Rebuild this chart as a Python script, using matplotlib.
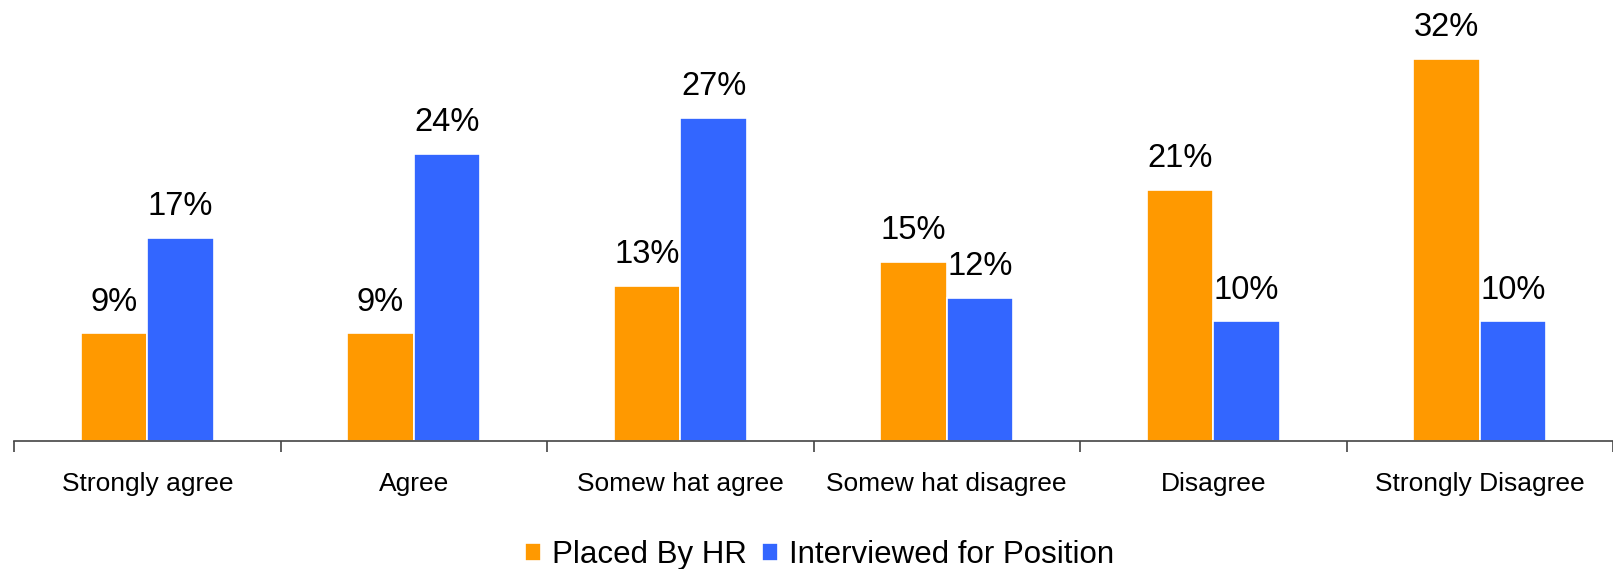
import numpy as np
import matplotlib
matplotlib.use('Agg')
import matplotlib.pyplot as plt

plt.rcParams['font.family'] = ['Liberation Sans', 'DejaVu Sans']

# 데이터
categories = ['Strongly agree', 'Agree', 'Somew hat agree', 'Somew hat disagree',
              'Disagree', 'Strongly Disagree']
placed_hr = [9, 9, 13, 15, 21, 32]
interviewed = [17, 24, 27, 12, 10, 10]
series_names = ['Placed By HR', 'Interviewed for Position']
colors = ['#FF9900', '#3366FF']

fig = plt.figure(figsize=(16.13, 5.69), dpi=100)
ax = fig.add_axes([14 / 1613, 128 / 569, 1 - 14 / 1613, 1 - 128 / 569])

x = np.arange(len(categories))
w = 0.25

b1 = ax.bar(x - w / 2, placed_hr, w, color=colors[0], edgecolor='white', linewidth=1.2,
            label=series_names[0])
b2 = ax.bar(x + w / 2, interviewed, w, color=colors[1], edgecolor='white', linewidth=1.2,
            label=series_names[1])

# 막대 위 값 표시
for bars, vals in [(b1, placed_hr), (b2, interviewed)]:
    for rect, v in zip(bars, vals):
        ax.annotate(f'{v}%', (rect.get_x() + rect.get_width() / 2, rect.get_height()),
                    xytext=(0, 16.5), textcoords='offset points',
                    ha='center', va='baseline', fontsize=23.5)

ax.set_xlim(-0.5, len(categories) - 0.5)
ax.set_ylim(0, 36.9)

for s in ['top', 'right', 'left']:
    ax.spines[s].set_visible(False)
ax.spines['bottom'].set_color('#444444')
ax.spines['bottom'].set_linewidth(1.2)
ax.set_yticks([])

# 그룹 경계에 눈금, 가운데에 라벨
ax.set_xticks(np.arange(len(categories) + 1) - 0.5)
ax.set_xticklabels([])
ax.tick_params(axis='x', which='major', length=8, width=1.2, color='#444444', direction='out')
ax.set_xticks(x, minor=True)
ax.set_xticklabels(categories, minor=True, fontsize=19)
ax.tick_params(axis='x', which='minor', length=0, pad=22.5)

fig.legend(loc='center', bbox_to_anchor=(0.508, 0.025), ncol=2, frameon=False,
           fontsize=22.5, handlelength=0.5, handleheight=0.5, handletextpad=0.35,
           columnspacing=0.5)

fig.savefig('out.png', dpi=100)
